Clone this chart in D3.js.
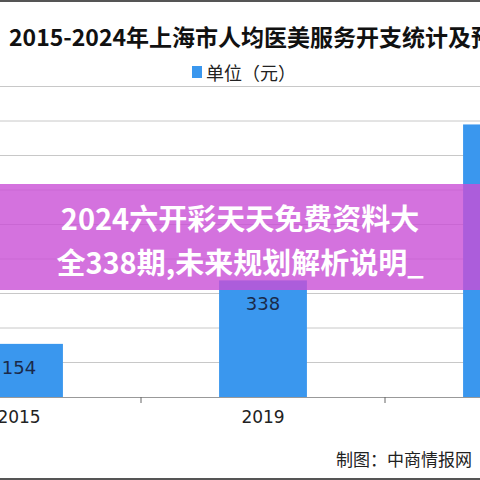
<!DOCTYPE html>
<html><head><meta charset="utf-8">
<script src="https://cdn.jsdelivr.net/npm/d3@7"></script>
<style>body{margin:0;background:#fff}</style>
</head><body>
<svg id="c" width="480" height="480"></svg>
<script>
const years = ['2015', '2019', '2024'];
const values = [154, 338, 790];
const yTicks = [0, 100, 200, 300, 400, 500, 600, 700, 800, 900];

const svg = d3.select('#c');
const font = '"Noto Sans CJK SC", sans-serif';

const x = d3.scaleBand().domain(years).range([-103, 629]).paddingInner(0.64).paddingOuter(0.32);
const y = d3.scaleLinear().domain([0, 100]).range([397, 362.5]);

// grid
svg.append('g').selectAll('line').data(yTicks.slice(1)).join('line')
  .attr('x1', 0).attr('x2', 480)
  .attr('y1', d => y(d)).attr('y2', d => y(d))
  .attr('stroke', '#c8c8c8').attr('stroke-width', 1);

// bars
svg.append('g').selectAll('rect').data(values).join('rect')
  .attr('x', (d, i) => x(years[i])).attr('width', x.bandwidth())
  .attr('y', d => y(d)).attr('height', d => y(0) - y(d))
  .attr('fill', '#3a97ee');

svg.append('g').selectAll('text').data(values).join('text')
  .attr('x', (d, i) => x(years[i]) + x.bandwidth() / 2)
  .attr('y', d => y(d) + 30)
  .attr('text-anchor', 'middle').attr('font-family', 'DejaVu Sans').attr('font-size', 18)
  .attr('fill', '#1a2a4a').text(d => d);

// x axis
const ax = svg.append('g').attr('transform', 'translate(0,397)')
  .call(d3.axisBottom(x).tickSize(0).tickPadding(14));
ax.select('.domain').attr('stroke', '#999');
ax.selectAll('text').attr('font-size', 17).attr('font-family', 'DejaVu Sans').attr('fill', '#222');
svg.append('g').selectAll('line').data(years.slice(1)).join('line')
  .attr('x1', d => x(d) - x.step() * x.paddingInner() / 2)
  .attr('x2', d => x(d) - x.step() * x.paddingInner() / 2)
  .attr('y1', 397).attr('y2', 403).attr('stroke', '#666');

// header
svg.append('line').attr('x1', 0).attr('x2', 480).attr('y1', 1).attr('y2', 1).attr('stroke', '#555').attr('stroke-width', 2);
svg.append('text').attr('x', 9).attr('y', 46).attr('font-family', font).attr('font-weight', 'bold')
  .attr('font-size', 23).attr('fill', '#111').text('2015-2024年上海市人均医美服务开支统计及预测');
svg.append('rect').attr('x', 192).attr('y', 66).attr('width', 10).attr('height', 12).attr('fill', '#3a97ee');
svg.append('text').attr('x', 206).attr('y', 80).attr('font-family', font).attr('font-size', 18)
  .attr('fill', '#222').text('单位（元）');

// banner
svg.append('rect').attr('x', 0).attr('y', 184).attr('width', 480).attr('height', 106)
  .attr('fill', '#c94fd6').attr('opacity', 0.8);
svg.append('text').attr('x', 240).attr('y', 230).attr('text-anchor', 'middle').attr('font-family', font)
  .attr('font-weight', 'bold').attr('font-size', 29).attr('fill', '#fff').text('2024六开彩天天免费资料大');
svg.append('text').attr('x', 240).attr('y', 274).attr('text-anchor', 'middle').attr('font-family', font)
  .attr('font-weight', 'bold').attr('font-size', 29).attr('fill', '#fff').text('全338期,未来规划解析说明_');

// footer
svg.append('text').attr('x', 472).attr('y', 466).attr('text-anchor', 'end').attr('font-family', font)
  .attr('font-size', 17).attr('fill', '#222').text('制图：中商情报网');
svg.append('line').attr('x1', 0).attr('x2', 480).attr('y1', 479).attr('y2', 479).attr('stroke', '#555').attr('stroke-width', 2);
</script>
</body></html>
